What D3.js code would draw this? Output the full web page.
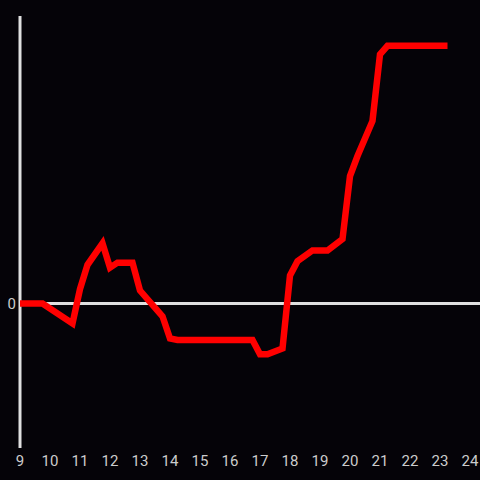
<!DOCTYPE html>
<html>
<head>
<meta charset="utf-8">
<script src="https://cdn.jsdelivr.net/npm/d3@7"></script>
<style>
  html, body { margin: 0; padding: 0; background: #050308; }
  svg { display: block; }
</style>
</head>
<body>
<div id="chart"></div>
<script>
// hours of the day (x) and values (y, arbitrary units)
var hours = [9, 9.75, 10.75, 11, 11.25, 11.75, 12, 12.25, 12.75, 13, 13.75, 14, 14.25,
             16.75, 17, 17.25, 17.75, 18, 18.25, 18.75, 19.25, 19.75, 20, 20.25, 20.75,
             21, 21.25, 23.25];
var values = [0, 0, -1.4, 1.0, 2.7, 4.2, 2.5, 2.85, 2.85, 0.9, -0.9, -2.45, -2.55,
              -2.55, -3.55, -3.55, -3.15, 1.95, 2.95, 3.7, 3.7, 4.5, 8.9, 10.3, 12.75,
              17.4, 18.0, 18.0];
var xTicks = [9, 10, 11, 12, 13, 14, 15, 16, 17, 18, 19, 20, 21, 22, 23, 24];
var yTicks = [0];

var width = 480, height = 480;

var svg = d3.select('#chart')
    .append('svg')
    .attr('width', width)
    .attr('height', height)
    .style('background', '#050308');

var x = d3.scaleLinear().domain([9, 24]).range([20, 470]);
var y = d3.scaleLinear().domain([-10.17, 20.08]).range([449, 16]);

// vertical axis line
svg.append('line')
    .attr('x1', x(9)).attr('x2', x(9))
    .attr('y1', y(20.08)).attr('y2', y(-10.17) - 1)
    .attr('stroke', '#e0e0e0')
    .attr('stroke-width', 3);

// zero line
svg.selectAll('.zero')
    .data(yTicks)
    .enter()
    .append('line')
    .attr('class', 'zero')
    .attr('x1', x(9)).attr('x2', width)
    .attr('y1', function(d) { return y(d); })
    .attr('y2', function(d) { return y(d); })
    .attr('stroke', '#e0e0e0')
    .attr('stroke-width', 3);

// y tick label
svg.selectAll('.ylab')
    .data(yTicks)
    .enter()
    .append('text')
    .attr('class', 'ylab')
    .attr('x', x(9) - 4)
    .attr('y', function(d) { return y(d); })
    .attr('dy', '0.35em')
    .attr('text-anchor', 'end')
    .attr('fill', '#cccccc')
    .style('font-family', 'Roboto, "Liberation Sans", sans-serif')
    .style('font-size', '15px')
    .text(function(d) { return d; });

// x tick labels
svg.selectAll('.xlab')
    .data(xTicks)
    .enter()
    .append('text')
    .attr('class', 'xlab')
    .attr('x', function(d) { return x(d); })
    .attr('y', 461)
    .attr('dy', '0.35em')
    .attr('text-anchor', 'middle')
    .attr('fill', '#cccccc')
    .style('font-family', 'Roboto, "Liberation Sans", sans-serif')
    .style('font-size', '15px')
    .text(function(d) { return d; });

// red series line
var pts = hours.map(function(h, i) { return [h, values[i]]; });
var line = d3.line()
    .x(function(d) { return x(d[0]); })
    .y(function(d) { return y(d[1]); });

svg.append('path')
    .datum(pts)
    .attr('d', line)
    .attr('fill', 'none')
    .attr('stroke', '#ff0000')
    .attr('stroke-width', 6.5)
    .attr('stroke-linejoin', 'miter');
</script>
</body>
</html>
